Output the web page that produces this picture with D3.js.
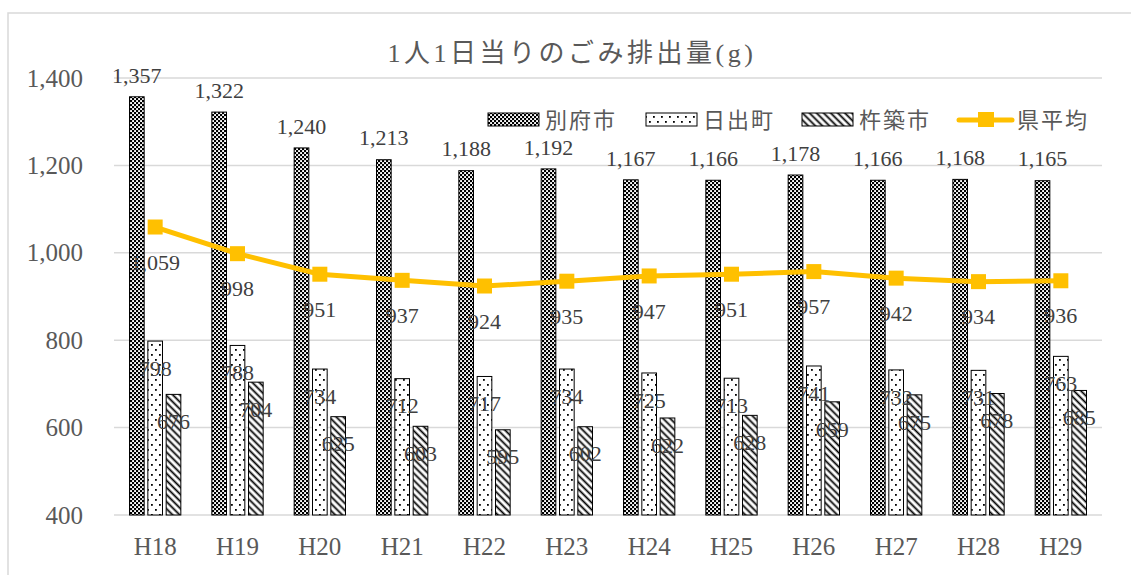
<!DOCTYPE html>
<html>
<head>
<meta charset="utf-8">
<script src="https://cdn.jsdelivr.net/npm/d3@7"></script>
<style>
  body { margin: 0; background: #fff; }
  text { font-family: "Liberation Serif", "Noto Sans CJK JP", serif; }
</style>
</head>
<body>
<div class="chart"></div>
<script>
// chart data
let years = ["H18", "H19", "H20", "H21", "H22", "H23", "H24", "H25", "H26", "H27", "H28", "H29"];
let beppu = [1357, 1322, 1240, 1213, 1188, 1192, 1167, 1166, 1178, 1166, 1168, 1165];
let hiji = [798, 788, 734, 712, 717, 734, 725, 713, 741, 732, 731, 763];
let kitsuki = [676, 704, 625, 603, 595, 602, 622, 628, 659, 675, 678, 685];
let kenAvg = [1059, 998, 951, 937, 924, 935, 947, 951, 957, 942, 934, 936];
let barNames = ["別府市", "日出町", "杵築市"];
let lineName = "県平均";
let yTicks = [400, 600, 800, 1000, 1200, 1400];

let svgWidth = 1131;
let svgHeight = 575;

let margin = { top: 78, right: 29, bottom: 60, left: 114 };
let width = svgWidth - margin.left - margin.right;
let height = svgHeight - margin.top - margin.bottom;

let svg = d3.select(".chart")
  .append("svg")
  .attr("width", svgWidth)
  .attr("height", svgHeight);

// patterns for the bars
let defs = svg.append("defs");

let checker = defs.append("pattern")
  .attr("id", "pat0")
  .attr("patternUnits", "userSpaceOnUse")
  .attr("width", 4).attr("height", 4);
checker.append("rect").attr("width", 4).attr("height", 4).attr("fill", "#000");
checker.append("rect").attr("x", 0.1).attr("y", 0.1).attr("width", 1.9).attr("height", 1.9).attr("fill", "#fff");
checker.append("rect").attr("x", 2.1).attr("y", 2.1).attr("width", 1.9).attr("height", 1.9).attr("fill", "#fff");

let dots = defs.append("pattern")
  .attr("id", "pat1")
  .attr("patternUnits", "userSpaceOnUse")
  .attr("width", 8).attr("height", 10);
dots.append("rect").attr("width", 8).attr("height", 10).attr("fill", "#fff");
dots.append("rect").attr("x", 1).attr("y", 1).attr("width", 1.8).attr("height", 1.8).attr("fill", "#000");
dots.append("rect").attr("x", 5).attr("y", 6).attr("width", 1.8).attr("height", 1.8).attr("fill", "#000");

let hatch = defs.append("pattern")
  .attr("id", "pat2")
  .attr("patternUnits", "userSpaceOnUse")
  .attr("width", 5).attr("height", 5)
  .attr("patternTransform", "rotate(-45)");
hatch.append("rect").attr("width", 5).attr("height", 5).attr("fill", "#fff");
hatch.append("line").attr("x1", 2.5).attr("x2", 2.5).attr("y1", 0).attr("y2", 5)
  .attr("stroke", "#000").attr("stroke-width", 1.8);

// outer chart border
svg.append("rect")
  .attr("x", 8).attr("y", 13)
  .attr("width", 1140).attr("height", 600)
  .attr("fill", "none")
  .attr("stroke", "#d9d9d9")
  .attr("stroke-width", 1.5);

let chartGroup = svg.append("g")
  .attr("transform", `translate(${margin.left}, ${margin.top})`);

// scales
let xScale = d3.scaleBand().domain(years).range([0, width]);
let xSub = d3.scaleBand().domain(barNames).range([-27.5, 27.5]).paddingInner(0.2).paddingOuter(0.1);
let yScale = d3.scaleLinear().domain([400, 1400]).range([height, 0]);

// gridlines
chartGroup.append("g")
  .selectAll("line")
  .data(yTicks)
  .enter()
  .append("line")
  .attr("x1", 0)
  .attr("x2", width)
  .attr("y1", d => yScale(d))
  .attr("y2", d => yScale(d))
  .attr("stroke", "#d9d9d9")
  .attr("stroke-width", 1.5);

// y axis labels
let leftAxis = d3.axisLeft(yScale).tickValues(yTicks).tickSize(0).tickPadding(31)
  .tickFormat(d3.format(","));
let yAxis = chartGroup.append("g").call(leftAxis);
yAxis.select(".domain").remove();
yAxis.selectAll("text")
  .attr("fill", "#595959")
  .style("font-size", "25px")
  .style("font-family", "Liberation Serif");

// x axis labels
let bottomAxis = d3.axisBottom(xScale).tickSize(0).tickPadding(22);
let xAxis = chartGroup.append("g")
  .attr("transform", `translate(0, ${height})`)
  .call(bottomAxis);
xAxis.select(".domain").remove();
xAxis.selectAll("text")
  .attr("fill", "#595959")
  .style("font-size", "25px")
  .style("font-family", "Liberation Serif");

// bars
let barSeries = [beppu, hiji, kitsuki];
barSeries.forEach(function(values, i) {
  chartGroup.append("g")
    .selectAll("rect")
    .data(values)
    .enter()
    .append("rect")
    .attr("x", (d, j) => xScale(years[j]) + xScale.bandwidth() / 2 + xSub(barNames[i]))
    .attr("y", d => yScale(d))
    .attr("width", xSub.bandwidth())
    .attr("height", d => height - yScale(d))
    .attr("fill", `url(#pat${i})`)
    .attr("stroke", "#000")
    .attr("stroke-width", 1);
});

// average line
let xMid = (d, j) => xScale(years[j]) + xScale.bandwidth() / 2;
let lineGen = d3.line()
  .x(xMid)
  .y(d => yScale(d));

chartGroup.append("path")
  .datum(kenAvg)
  .attr("d", lineGen)
  .attr("fill", "none")
  .attr("stroke", "#ffc000")
  .attr("stroke-width", 5)
  .attr("stroke-linejoin", "round");

chartGroup.append("g")
  .selectAll("rect")
  .data(kenAvg)
  .enter()
  .append("rect")
  .attr("x", (d, j) => xMid(d, j) - 7.5)
  .attr("y", d => yScale(d) - 7.5)
  .attr("width", 15)
  .attr("height", 15)
  .attr("fill", "#ffc000");

// data labels
let labelOffsets = [-22, 27, 27];
barSeries.forEach(function(values, i) {
  chartGroup.append("g")
    .selectAll("text")
    .data(values)
    .enter()
    .append("text")
    .attr("x", (d, j) => xMid(d, j) + xSub(barNames[i]) + xSub.bandwidth() / 2)
    .attr("y", d => yScale(d) + labelOffsets[i])
    .attr("dy", "0.35em")
    .attr("text-anchor", "middle")
    .attr("fill", "#404040")
    .style("font-size", "22px")
    .text(d => d3.format(",")(d));
});

chartGroup.append("g")
  .selectAll("text")
  .data(kenAvg)
  .enter()
  .append("text")
  .attr("x", xMid)
  .attr("y", d => yScale(d) + 35)
  .attr("dy", "0.35em")
  .attr("text-anchor", "middle")
  .attr("fill", "#404040")
  .style("font-size", "22px")
  .text(d => d3.format(",")(d));

// title
svg.append("text")
  .attr("x", 572)
  .attr("y", 62)
  .attr("text-anchor", "middle")
  .attr("fill", "#595959")
  .style("font-size", "26px")
  .style("letter-spacing", "3.5px")
  .text("1人1日当りのごみ排出量(g)");

// legend
let legend = svg.append("g");
let legendX = [488, 646, 802];
barNames.forEach(function(name, i) {
  legend.append("rect")
    .attr("x", legendX[i])
    .attr("y", 113)
    .attr("width", 51)
    .attr("height", 13)
    .attr("fill", `url(#pat${i})`)
    .attr("stroke", "#000")
    .attr("stroke-width", 1);
  legend.append("text")
    .attr("x", legendX[i] + 57)
    .attr("y", 120)
    .attr("dy", "0.35em")
    .attr("fill", "#595959")
    .style("font-size", "22px")
    .style("letter-spacing", "2px")
    .text(name);
});

legend.append("line")
  .attr("x1", 959).attr("x2", 1012)
  .attr("y1", 120).attr("y2", 120)
  .attr("stroke", "#ffc000")
  .attr("stroke-width", 5)
  .attr("stroke-linecap", "round");
legend.append("rect")
  .attr("x", 978).attr("y", 112)
  .attr("width", 16).attr("height", 15)
  .attr("fill", "#ffc000");
legend.append("text")
  .attr("x", 1017)
  .attr("y", 120)
  .attr("dy", "0.35em")
  .attr("fill", "#595959")
  .style("font-size", "22px")
  .style("letter-spacing", "2px")
  .text(lineName);
</script>
</body>
</html>
